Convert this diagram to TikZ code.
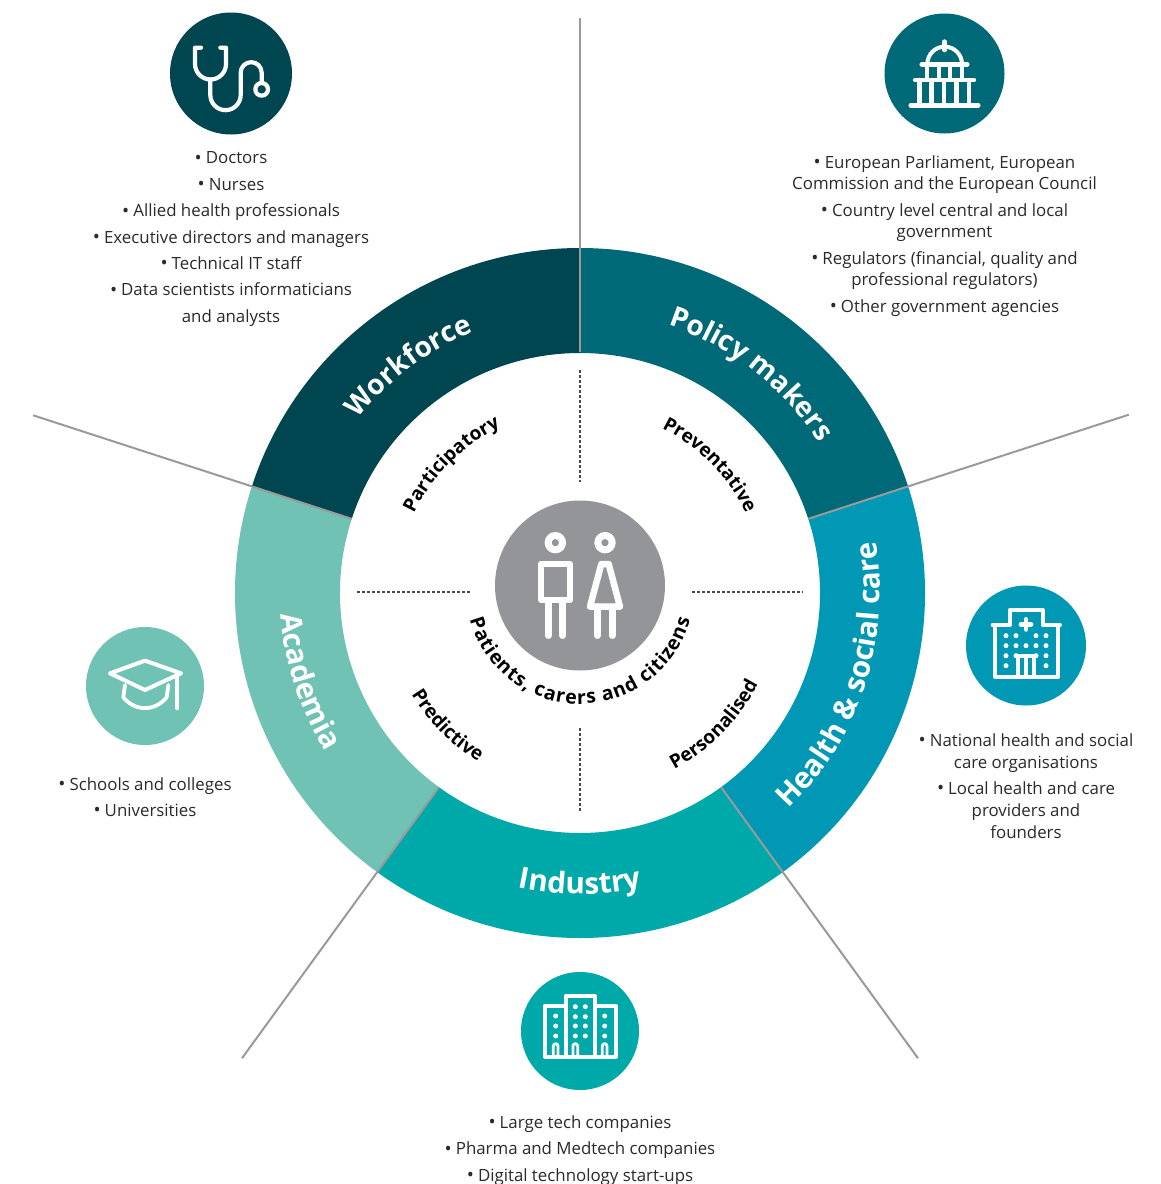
\documentclass[tikz,border=0pt]{standalone}
\usepackage{fontspec}
\setmainfont{Open Sans}
\usetikzlibrary{decorations.text}
\definecolor{cWork}{HTML}{004650}
\definecolor{cPol}{HTML}{006978}
\definecolor{cHea}{HTML}{0098B4}
\definecolor{cInd}{HTML}{00A9A9}
\definecolor{cAca}{HTML}{70C2B4}
\definecolor{cGrey}{HTML}{949599}
\definecolor{cLine}{HTML}{9A9A9A}
\definecolor{cText}{HTML}{2A2A2A}
\newcommand{\bul}{{\fontsize{19}{19}\selectfont\raisebox{-0.4pt}{•}}\hspace{4pt}}
\newcommand{\bandfont}{\bfseries\fontsize{28}{28}\selectfont\color{white}}
\newcommand{\bandfontb}{\bfseries\fontsize{29.6}{30}\selectfont\color{white}}
\newcommand{\petalfont}{\bfseries\fontsize{19}{20}\selectfont\color{black}}
\newcommand{\centrefont}{\bfseries\fontsize{19.5}{20}\selectfont\color{black}}
\tikzset{
  x=1pt,y=-1pt,
  listtext/.style={align=center,inner sep=0pt,text=cText},
  tight/.style={listtext,font=\fontsize{16.85}{21}\selectfont},
  tighter/.style={listtext,font=\fontsize{16.85}{22}\selectfont},
  loose/.style={listtext,font=\fontsize{16.85}{26.4}\selectfont},
  badge/.style={circle,inner sep=0pt,minimum size=#1},
  ico/.style={draw=white,line width=#1,line cap=round,line join=round,fill=none},
  greyline/.style={draw=cLine,line width=2pt},
  dotline/.style={draw=cText!85!white,line width=1.6pt,dash pattern=on 3pt off 2pt},
  seg/.style={fill=#1,draw=none},
}
\newcommand{\segment}[3]{\path[seg=#3] (#1:345) arc[start angle=#1,end angle=#2,radius=345] -- (#2:240) arc[start angle=#2,end angle=#1,radius=240] -- cycle;}
\newcommand{\curved}[5]{\path[decorate,decoration={text along path,text align=center,text={|#5|#4}}] (#1:#3) arc[start angle=#1,end angle=#2,radius=#3];}
\newcommand{\curvedfit}[5]{\path[decorate,decoration={text along path,text align={fit to path},text={|#5|#4}}] (#1:#3) arc[start angle=#1,end angle=#2,radius=#3];}
\begin{document}
\begin{tikzpicture}
\fill[white] (0,0) rectangle (1161,1184);
\useasboundingbox (0,0) rectangle (1161,1184);

% ring (y up inside this scope, so angles are the usual ones)
\begin{scope}[shift={(580,593)},y=1pt]
  \segment{90}{162}{cWork}
  \segment{18}{90}{cPol}
  \segment{-54}{18}{cHea}
  \segment{234}{306}{cInd}
  \segment{162}{234}{cAca}
  \coordinate (a1) at (90:241);  \coordinate (b1) at (90:575);
  \coordinate (a2) at (18:240);  \coordinate (b2) at (18:577);
  \coordinate (a3) at (-54:240); \coordinate (b3) at (-54:575);
  \coordinate (a4) at (234:240); \coordinate (b4) at (234:575);
  \coordinate (a5) at (162:240); \coordinate (b5) at (162:575);
  \draw[greyline] (a1) -- (b1);
  \draw[greyline] (a2) -- (b2);
  \draw[greyline] (a3) -- (b3);
  \draw[greyline] (a4) -- (b4);
  \draw[greyline] (a5) -- (b5);
  \coordinate (d1a) at (0,223); \coordinate (d1b) at (0,111);
  \coordinate (d2a) at (112,1); \coordinate (d2b) at (223,1);
  \coordinate (d3a) at (0,-135); \coordinate (d3b) at (0,-219);
  \coordinate (d4a) at (-223,1); \coordinate (d4b) at (-110,1);
  \draw[dotline] (d1a) -- (d1b);
  \draw[dotline] (d2a) -- (d2b);
  \draw[dotline] (d3a) -- (d3b);
  \draw[dotline] (d4a) -- (d4b);
  \curved{172}{82}{282}{Workforce}{\bandfont}
  \curved{97}{7}{282}{Policy makers}{\bandfont}
  \curved{-63}{27}{300}{Health {\&} social care}{\bandfontb}
  \curved{225}{315}{301}{Industry}{\bandfontb}
  \curved{153}{243}{300}{Academia}{\bandfontb}
  \curved{180}{90}{184}{Participatory}{\petalfont}
  \curved{89.6}{-0.4}{184}{Preventative}{\petalfont}
  \curved{180}{270}{197}{Predictive}{\petalfont}
  \curved{270.5}{360.5}{200}{Personalised}{\petalfont}
  \begin{scope}[shift={(0,3)}]
    \curvedfit{195}{345}{114}{Patients, carers and citizens}{\centrefont}
  \end{scope}
\end{scope}

% badges
\node[badge=122pt,fill=cWork] (bWork) at (231,73.5) {};
\node[badge=120pt,fill=cPol] (bPol) at (944.5,73.5) {};
\node[badge=120pt,fill=cHea] (bHea) at (1026,645.5) {};
\node[badge=118pt,fill=cInd] (bInd) at (580,1031) {};
\node[badge=118pt,fill=cAca] (bAca) at (145,686) {};
\node[badge=170pt,fill=cGrey] (bPeople) at (580,585.5) {};

% stethoscope
\begin{scope}[shift={(150,0)},scale=1/3]
  \draw[ico=4.2pt] (153,143) -- (135,143) -- (135,192) arc[start angle=180,end angle=0,radius=46.5] -- (228,143) -- (211,143);
  \draw[ico=4.2pt] (181,238) -- (181,285) arc[start angle=180,end angle=0,radius=45.5] -- (272,218) arc[start angle=180,end angle=360,radius=31.5] -- (335,248);
  \draw[ico=4.2pt] (335,268) circle[radius=19];
\end{scope}

% capitol
\begin{scope}[shift={(870,0)},scale=1/3]
  \draw[ico=4.6pt] (224,125) -- (224,150);
  \draw[ico=4pt] (172,192) arc[start angle=180,end angle=360,radius=52];
  \draw[ico=4.4pt] (155,193) -- (292,193);
  \foreach \x in {170,206,240,275} \draw[ico=4pt] (\x,193) -- (\x,240);
  \draw[ico=4.4pt] (135,240) -- (312,240);
  \foreach \x in {148,185,222,260,297} \draw[ico=4.4pt] (\x,240) -- (\x,316);
  \draw[ico=4.4pt] (122,316) -- (325,316);
\end{scope}

% people
\begin{scope}[shift={(480,490)},scale=1/3]
  \draw[ico=7pt] (226,158) circle[radius=21.5];
  \draw[ico=7pt] (375,158) circle[radius=21.5];
  \draw[ico=6.5pt] (183,222) rectangle (270,330);
  \draw[ico=6.5pt] (205,330) -- (205,437);
  \draw[ico=6.5pt] (248,330) -- (248,437);
  \draw[ico=6.5pt] (364,222) -- (386,222) -- (420,350) -- (330,350) -- cycle;
  \draw[ico=6.5pt] (352,350) -- (352,437);
  \draw[ico=6.5pt] (397,350) -- (397,437);
\end{scope}

% hospital
\begin{scope}[shift={(950,570)},scale=1/3]
  \draw[ico=4pt] (135,165) -- (135,320) -- (325,320) -- (325,165);
  \draw[ico=4pt] (128,165) -- (180,165) -- (180,120) -- (278,120) -- (278,165) -- (330,165);
  \draw[ico=4.8pt] (228,148) -- (228,178) (213,163) -- (243,163);
  \draw[ico=4pt] (205,320) -- (205,258) -- (252,258) -- (252,320) (228,258) -- (228,320);
  \foreach \x/\y in {168/197,198/197,258/197,288/197,168/227,198/227,228/227,258/227,288/227,168/257,198/257,258/257,288/257,168/287,288/287}
    \fill[white] (\x,\y) circle[radius=7.5];
\end{scope}

% towers
\begin{scope}[shift={(505,960)},scale=1/3]
  \draw[ico=4pt] (182,290) -- (182,108) -- (270,108) -- (270,290);
  \draw[ico=4pt] (182,137) -- (120,137) -- (120,290) -- (332,290) -- (332,137) -- (270,137);
  \foreach \x in {211,241} \foreach \y in {140,170,198,228} \fill[white] (\x,\y) circle[radius=7.5];
  \foreach \x in {152,299} \foreach \y in {168,198,228} \fill[white] (\x,\y) circle[radius=7.5];
  \foreach \x in {152,211,299} \draw[ico=2.8pt] (\x-7,288) -- (\x-7,258) arc[start angle=180,end angle=360,radius=7] -- (\x+7,288);
\end{scope}

% cap
\begin{scope}[shift={(70,610)},scale=1/3]
  \draw[ico=4pt] (120,190) -- (225,152) -- (333,190) -- (225,240) -- cycle;
  \draw[ico=3.8pt] (322,195) -- (322,295);
  \draw[ico=3.8pt] (165,225) -- (160,262) .. controls (195,305) and (255,305) .. (290,262) -- (295,225);
\end{scope}

% lists
\node[loose] (tWork) at (231,239.2) {\bul Doctors\\\bul Nurses\\\bul Allied health professionals\\\bul Executive directors and managers\\\bul Technical IT staff\\\bul Data scientists informaticians\\and analysts};
\node[tight] (tPol) at (944.5,236) {\bul European Parliament, European\\Commission and the European Council\\[6pt]\bul Country level central and local\\government\\[6pt]\bul Regulators (financial, quality and\\professional regulators)\\[6pt]\bul Other government agencies};
\node[tighter] (tHea) at (1026,786) {\bul National health and social\\care organisations\\[4pt]\bul Local health and care\\providers and\\founders};
\node[loose] (tAca) at (145,797) {\bul Schools and colleges\\\bul Universities};
\node[loose] (tInd) at (580,1150.5) {\bul Large tech companies\\\bul Pharma and Medtech companies\\\bul Digital technology start-ups};
\end{tikzpicture}
\end{document}
